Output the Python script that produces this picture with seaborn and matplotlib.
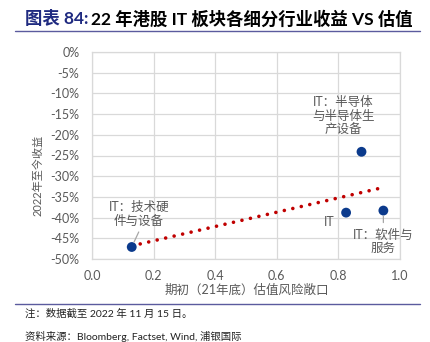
import matplotlib
matplotlib.use("Agg")
import matplotlib.pyplot as plt
import seaborn as sns
import pandas as pd
from matplotlib.ticker import FuncFormatter
from matplotlib.lines import Line2D

# ---------------- data ----------------
valuation_risk = [0.129, 0.825, 0.946, 0.875]      # x: 期初（21年底）估值风险敞口
ytd_return = [-47.1, -38.8, -38.3, -24.1]          # y: 2022年至今收益 (%)
label_texts = ["IT：技术硬\n件与设备", "IT", "IT：软件与\n服务", "IT：半导体\n与半导体生\n产设备"]
x_ticks = [0.0, 0.2, 0.4, 0.6, 0.8, 1.0]
y_ticks = list(range(0, -55, -5))

df = pd.DataFrame({"x": valuation_risk, "y": ytd_return})

W, H = 431, 342
sns.set_theme(style="white")
plt.rcParams['font.family'] = ['Lato', 'Noto Sans CJK SC', 'DejaVu Sans']
FAM = ['Lato', 'Noto Sans CJK SC', 'DejaVu Sans']

fig = plt.figure(figsize=(W / 100, H / 100), dpi=100)
fig.patch.set_facecolor("white")

def fx(x):
    return x / W

def fy(y):
    return 1 - y / H

ax = fig.add_axes([fx(92), fy(259), (400 - 92) / W, (259 - 52) / H])

grid_c = "#D9D9D9"
text_c = "#595959"

sns.regplot(data=df, x="x", y="y", ax=ax, scatter=False, ci=None, truncate=True,
            line_kws=dict(color="#C00000", lw=2.6, ls=(0, (0.01, 2.4)),
                          dash_capstyle="round", zorder=2))
sns.scatterplot(data=df, x="x", y="y", ax=ax, color="#0B3A8C", s=50,
                edgecolor="none", zorder=3, legend=False)

ax.set_xlim(0, 1.0)
ax.set_ylim(-50, 0)
ax.set_xticks(x_ticks)
ax.set_yticks(y_ticks)
ax.xaxis.set_major_formatter(FuncFormatter(lambda v, p: f"{v:.1f}"))
ax.yaxis.set_major_formatter(FuncFormatter(lambda v, p: f"{v:.0f}%"))
ax.grid(True, color=grid_c, lw=0.9)
ax.set_axisbelow(True)
for s in ax.spines.values():
    s.set_color(grid_c)
    s.set_linewidth(0.9)
ax.tick_params(axis="both", length=0, labelsize=9, colors=text_c)
ax.tick_params(axis="x", pad=8)
ax.tick_params(axis="y", pad=9)
ax.set_xlabel("")
ax.set_ylabel("")

# annotations (offsets in pixels relative to each point)
offsets = [(7, 33), (-17, -9), (0, -31), (-18, 36)]
for xv, yv, txt, off in zip(valuation_risk, ytd_return, label_texts, offsets):
    ax.annotate(txt, xy=(xv, yv), xytext=off, textcoords="offset pixels",
                ha="center", va="center", fontsize=9, color=text_c,
                linespacing=1.15, family=FAM, zorder=4)

# leader lines
leaders = [(0, (7, 15)), (2, (0, -12))]
for idx, end in leaders:
    ax.annotate("", xy=(valuation_risk[idx], ytd_return[idx]), xytext=end,
                textcoords="offset pixels",
                arrowprops=dict(arrowstyle="-", color="#A6A6A6", lw=0.9,
                                shrinkA=0, shrinkB=4))

# axis titles
fig.text(fx(247), fy(290), "期初（21年底）估值风险敞口", ha="center", va="center",
         fontsize=9, color=text_c, family=FAM)
fig.text(fx(38), fy(175), "2022年至今收益", ha="center", va="center",
         rotation=90, fontsize=8, color=text_c, family=FAM)

# title
t1 = fig.text(fx(25), fy(19), "图表 84:", ha="left", va="center", fontsize=12.5,
              fontweight="bold", color="#1F2A80", family=FAM)
fig.canvas.draw()
bb = t1.get_window_extent()
fig.text(bb.x1 / W + 3 / W, fy(19), "22 年港股 IT 板块各细分行业收益 VS 估值",
         ha="left", va="center", fontsize=12.5, fontweight="bold",
         color="black", family=FAM)

# separator lines
for yy in (31, 304):
    fig.add_artist(Line2D([fx(15), fx(420)], [fy(yy), fy(yy)],
                          color="#5B5B9E", lw=1.0))

# footnotes
fig.text(fx(25), fy(314), "注：数据截至 2022 年 11 月 15 日。", ha="left",
         va="center", fontsize=7.5, color="#222222", family=FAM)
fig.text(fx(25), fy(336), "资料来源：Bloomberg, Factset, Wind, 浦银国际", ha="left",
         va="center", fontsize=7.5, color="#222222", family=FAM)

fig.savefig("out.png", dpi=100)
